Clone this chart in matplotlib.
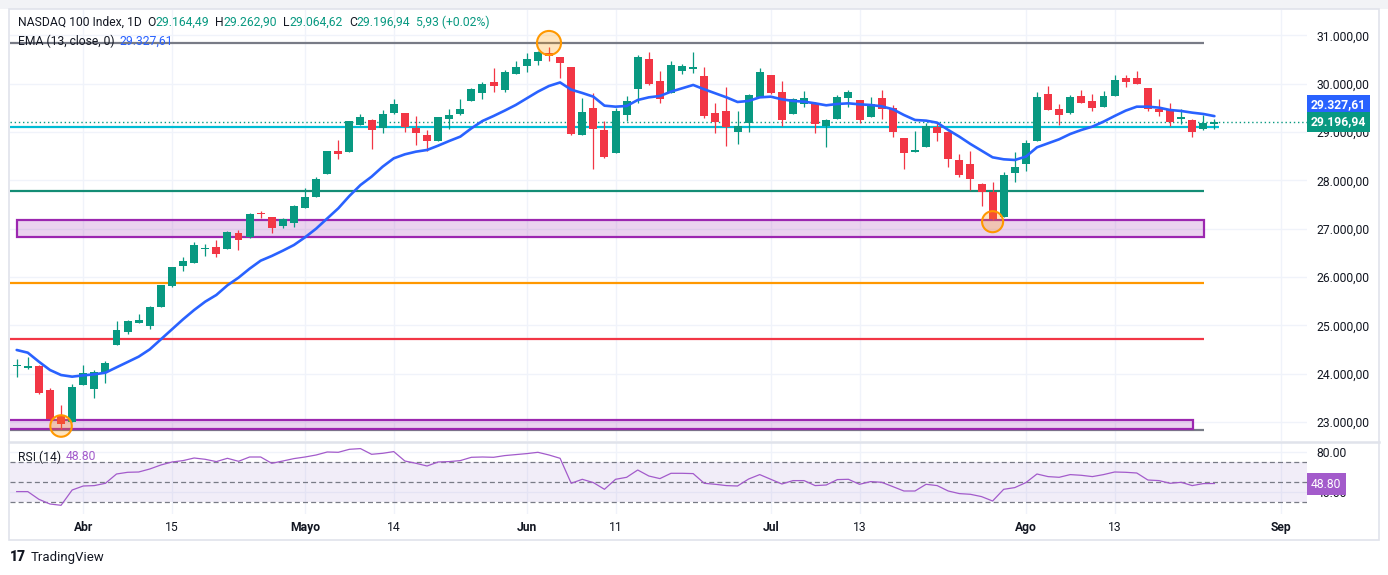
import matplotlib
matplotlib.use("Agg")
import matplotlib.pyplot as plt
from matplotlib.patches import Rectangle
from matplotlib.lines import Line2D
import numpy as np

W, H = 1388, 575

# ---- daily candles (NASDAQ 100, 1D) ----
opens = [24150, 24123, 24165, 23661, 23123, 23006, 23771, 23688, 24033, 24599,
         24868, 25054, 24992, 25385, 25820, 26233, 26296, 26585, 26620, 26585,
         26902, 26820, 27309, 27234, 27061, 27123, 27434, 27661, 28130, 28606,
         28592, 29151, 29247, 29089, 29399, 29392, 29089, 28937, 28820, 29268,
         29365, 29647, 29813, 30027, 29868, 30206, 30372, 30475, 30627, 30544,
         30337, 28944, 29489, 29041, 28572, 29358, 29896, 30510, 30054, 29813,
         30268, 30310, 30158, 29399, 29434, 29006, 29179, 29730, 30178, 29827,
         29372, 29579, 29606, 29130, 29275, 29710, 29661, 29316, 29703, 29489,
         28875, 28595, 28696, 29110, 29006, 28427, 28337, 27923, 27758, 27247,
         28158, 28337, 28820, 29785, 29475, 29385, 29744, 29641, 29523, 29751,
         30110, 30117, 29903, 29468, 29454, 29275, 29248, 29054, 29164.49]
highs = [24295, 24351, 24170, 23695, 23350, 23785, 24178, 24075, 24254, 25089,
         25109, 25233, 25399, 25840, 26205, 26413, 26716, 26682, 26765, 26951,
         26971, 27323, 27371, 27240, 27227, 27480, 27834, 28075, 28610, 28834,
         29235, 29372, 29260, 29454, 29682, 29400, 29330, 29040, 29310, 29475,
         29682, 29900, 30040, 30316, 30275, 30468, 30627, 30682, 30751, 30550,
         30345, 29696, 29813, 29227, 29489, 29744, 30592, 30648, 30261, 30468,
         30399, 30648, 30337, 29592, 29930, 29434, 29775, 30323, 30185, 30054,
         29696, 29848, 29610, 29268, 29765, 29868, 29665, 29723, 29868, 29558,
         28880, 29020, 29179, 29179, 29010, 28537, 28606, 27951, 27958, 28165,
         28579, 28834, 29820, 29951, 29579, 29765, 29868, 29785, 29854, 30179,
         30179, 30261, 29908, 29675, 29592, 29468, 29268, 29351, 29262.90]
lows = [23937, 24102, 23585, 23050, 22847, 23000, 23760, 23502, 23799, 24590,
        24820, 25040, 24930, 25378, 25785, 26130, 26290, 26440, 26420, 26580,
        26558, 26815, 27213, 26903, 27020, 27040, 27430, 27655, 28125, 28447,
        28585, 29145, 28654, 28985, 29365, 29006, 28730, 28599, 28815, 29068,
        29360, 29640, 29689, 29834, 29820, 30200, 30248, 30392, 30475, 30123,
        28937, 28940, 28227, 28468, 28565, 29234, 29592, 29980, 29606, 29808,
        30192, 30213, 29296, 28985, 28710, 28744, 29006, 29725, 29785, 29123,
        29365, 29523, 28985, 28696, 29270, 29523, 29192, 29310, 29275, 28903,
        28241, 28590, 28690, 28820, 28282, 28075, 27799, 27475, 27185, 27240,
        27972, 28199, 28815, 29454, 29144, 29380, 29600, 29434, 29518, 29745,
        29937, 29995, 29441, 29330, 29130, 29158, 28903, 29050, 29064.62]
closes = [24165, 24158, 23606, 23054, 22950, 23723, 24013, 24033, 24220, 24902,
          25089, 25109, 25378, 25833, 26199, 26330, 26661, 26599, 26482, 26930,
          26765, 27303, 27296, 27020, 27192, 27468, 27647, 28027, 28606, 28551,
          29227, 29303, 29047, 29372, 29578, 29103, 28985, 28820, 29303, 29351,
          29475, 29882, 29992, 29958, 30241, 30344, 30510, 30655, 30572, 30420,
          28958, 29413, 29068, 28489, 29434, 29641, 30551, 29985, 29675, 30386,
          30365, 30337, 29337, 29213, 29110, 29123, 29765, 30241, 29813, 29247,
          29675, 29696, 29158, 29247, 29723, 29827, 29247, 29585, 29482, 29006,
          28572, 28610, 29123, 28985, 28434, 28110, 28020, 27765, 27192, 28110,
          28275, 28779, 29723, 29461, 29351, 29730, 29606, 29503, 29744, 30075,
          30041, 30000, 29475, 29420, 29213, 29303, 29006, 29190, 29196.94]

# EMA(13, close) as drawn
ema13 = [24489, 24433, 24247, 24075, 23971, 23937, 23964, 23985, 24019, 24130,
         24240, 24351, 24502, 24709, 24916, 25123, 25316, 25489, 25627, 25827,
         25985, 26171, 26337, 26434, 26544, 26661, 26820, 26999, 27210, 27420,
         27675, 27902, 28075, 28282, 28454, 28537, 28592, 28627, 28716, 28813,
         28903, 29075, 29227, 29330, 29441, 29558, 29696, 29834, 29951, 30024,
         29875, 29806, 29730, 29544, 29523, 29537, 29661, 29716, 29744, 29834,
         29903, 29972, 29882, 29799, 29716, 29620, 29641, 29716, 29730, 29675,
         29641, 29627, 29592, 29551, 29579, 29592, 29572, 29558, 29530, 29470,
         29351, 29248, 29234, 29192, 29041, 28903, 28751, 28613, 28475, 28434,
         28420, 28489, 28682, 28765, 28848, 28958, 29041, 29110, 29213, 29330,
         29441, 29523, 29523, 29503, 29454, 29434, 29399, 29372, 29327.61]

# RSI(14)
rsi14 = [40.7, 40.7, 33.0, 28.3, 27.0, 42.3, 46.3, 46.7, 49.0, 58.3,
         60.0, 60.3, 63.3, 67.3, 70.3, 71.7, 74.3, 73.0, 70.7, 74.0,
         71.0, 75.3, 75.3, 69.0, 71.3, 73.7, 75.3, 77.3, 80.3, 80.0,
         83.0, 83.7, 78.0, 79.0, 80.7, 71.3, 69.0, 66.3, 70.3, 70.7,
         71.7, 75.0, 75.3, 75.0, 76.7, 77.7, 78.7, 80.0, 77.3, 74.0,
         49.0, 53.0, 49.7, 43.0, 53.0, 55.0, 62.3, 56.3, 53.7, 59.0,
         59.0, 58.7, 49.0, 48.0, 46.7, 46.3, 53.3, 57.7, 53.0, 48.3,
         51.7, 51.7, 46.7, 47.3, 52.7, 53.0, 48.0, 50.7, 50.0, 45.7,
         41.3, 41.3, 48.0, 46.7, 41.3, 38.7, 38.0, 35.7, 31.3, 43.0,
         44.7, 49.7, 58.3, 55.7, 55.0, 57.7, 57.0, 55.7, 57.7, 60.3,
         60.0, 59.3, 52.3, 51.7, 49.0, 50.0, 46.7, 48.7, 48.8]

# time axis (bar index of each label)
tick_pos = [6, 14, 26, 34, 46, 54, 68, 76, 91, 99, 114]
tick_labels = ["Abr", "15", "Mayo", "14", "Jun", "11", "Jul", "13", "Ago", "13", "Sep"]
month_labels = {"Abr", "Mayo", "Jun", "Jul", "Ago", "Sep"}
price_ticks = [23000, 24000, 25000, 26000, 27000, 28000, 29000, 30000, 31000]

# drawn levels / zones
level_gray = 30830
level_cyan = 29110
level_teal = 27785
zone_upper = (26833, 27178)
level_orange = 25881
level_red = 24716
zone_lower = (22850, 23047)
level_gray_low = 22840

# highlight circles
circle_idx = [48, 88, 4]
circle_price = [30841, 27143, 22916]

UP = "#089981"
DOWN = "#F23645"
EMA_C = "#2962FF"
RSI_C = "#A35BCB"
GRID = "#F0F3FA"
TXT = "#131722"
PURPLE = "#9C27B0"

plt.rcParams["font.family"] = ["Roboto", "DejaVu Sans"]


def fmt_price(v):
    return f"{v:,.2f}".replace(",", "X").replace(".", ",").replace("X", ".")


def box(l, t, r, b):
    return [l / W, 1 - b / H, (r - l) / W, (b - t) / H]


fig = plt.figure(figsize=(W / 100, H / 100), dpi=100)
fig.patch.set_facecolor("white")

ax = fig.add_axes(box(10, 10, 1307, 441))
ax_rsi = fig.add_axes(box(10, 443, 1307, 514), sharex=ax)

x = np.arange(len(closes))
o = np.array(opens)
c = np.array(closes)
up = c >= o
colors = np.where(up, UP, DOWN)

# grid
for a in (ax, ax_rsi):
    for tp in tick_pos:
        a.axvline(tp, color=GRID, lw=1, zorder=0)
for p in price_ticks:
    ax.axhline(p, color=GRID, lw=1, zorder=0)
for p in (40, 80):
    ax_rsi.axhline(p, color=GRID, lw=1, zorder=0)

# levels and zones
x_end = 107.1
ax.hlines(level_gray, -1, x_end, color="#787B86", lw=1.6, zorder=1)
ax.hlines(level_cyan, -1, 108.4, color="#00BCD4", lw=1.6, zorder=1)
ax.hlines(level_teal, -1, x_end, color="#138D75", lw=1.6, zorder=1)
ax.hlines(level_orange, -1, x_end, color="#FF9800", lw=1.6, zorder=1)
ax.hlines(level_red, -1, x_end, color="#F23645", lw=1.6, zorder=1)
ax.hlines(level_gray_low, -1, x_end, color="#787B86", lw=1.6, zorder=1)
ax.add_patch(Rectangle((0, zone_upper[0]), x_end, zone_upper[1] - zone_upper[0],
                       facecolor=(0.61, 0.15, 0.69, 0.2), edgecolor=PURPLE, lw=1.6, zorder=1))
ax.add_patch(Rectangle((-1, zone_lower[0]), 106.1 + 1, zone_lower[1] - zone_lower[0],
                       facecolor=(0.61, 0.15, 0.69, 0.2), edgecolor=PURPLE, lw=1.6, zorder=1))

# last price dotted line
ax.axhline(closes[-1], color=UP, lw=1, linestyle=(0, (1, 2)), zorder=1)

# candles
ax.vlines(x, lows, highs, colors=colors, lw=0.9, zorder=3)
body_low = np.minimum(o, c)
body_h = np.maximum(np.abs(c - o), 22)
ax.bar(x, body_h, bottom=body_low, width=0.72, color=colors, linewidth=0, zorder=3)

# EMA
ax.plot(x, ema13, color=EMA_C, lw=1.9, zorder=4, solid_capstyle="round")

# circles
ax.scatter(circle_idx, circle_price, s=[300, 230, 240], facecolor=(1.0, 0.6, 0.0, 0.25),
           edgecolor="#FF9800", linewidths=1.5, zorder=5)

ax.set_xlim(-0.604, 116.35)
ax.set_ylim(22606, 31523)
ax.yaxis.tick_right()
ax.set_yticks(price_ticks)
ax.set_yticklabels([fmt_price(p) for p in price_ticks])
ax.tick_params(axis="y", length=0, pad=7, labelsize=8.7, labelcolor=TXT)
ax.tick_params(axis="x", length=0, labelbottom=False)
for s in ax.spines.values():
    s.set_visible(False)

# RSI pane
ax_rsi.axhspan(30, 70, color="#7E57C2", alpha=0.1, lw=0, zorder=0)
for lv in (70, 50, 30):
    ax_rsi.axhline(lv, color="#787B86", lw=0.9, dashes=(4, 2.5), zorder=1)
ax_rsi.plot(x, rsi14, color=RSI_C, lw=0.9, zorder=3)
ax_rsi.set_ylim(18.3, 89.3)
ax_rsi.yaxis.tick_right()
ax_rsi.set_yticks([40, 80])
ax_rsi.set_yticklabels(["40.00", "80.00"])
ax_rsi.tick_params(axis="y", length=0, pad=7, labelsize=8.7, labelcolor=TXT)
ax_rsi.set_xticks(tick_pos)
ax_rsi.set_xticklabels(tick_labels)
ax_rsi.tick_params(axis="x", length=0, pad=5, labelsize=8.7, labelcolor=TXT)
for lab in ax_rsi.get_xticklabels():
    if lab.get_text() in month_labels:
        lab.set_fontweight("bold")
for s in ax_rsi.spines.values():
    s.set_visible(False)

# frame and separators
fig.add_artist(Rectangle((0, 1 - 9 / H), 1, 9 / H, transform=fig.transFigure,
                         facecolor="#F2F3F6", edgecolor="none", zorder=-1))
fig.add_artist(Rectangle((9 / W, 1 - 540 / H), 1370 / W, 531 / H, transform=fig.transFigure,
                         facecolor="none", edgecolor="#E0E3EB", lw=1.2))
fig.add_artist(Line2D([9 / W, 1379 / W], [1 - 442 / H, 1 - 442 / H], transform=fig.transFigure,
                      color="#E0E3EB", lw=1.8))

# header legends
renderer = fig.canvas.get_renderer()


def seq_text(x0, y0, parts, size=8.7):
    xx = x0
    for txt, col, gap in parts:
        t = fig.text(xx / W, 1 - y0 / H, txt, color=col, fontsize=size, va="center", ha="left")
        bb = t.get_window_extent(renderer)
        xx = bb.x1 + gap


seq_text(18, 22, [("NASDAQ 100 Index, 1D", TXT, 5),
                  ("O", TXT, 0), ("29.164,49", UP, 6),
                  ("H", TXT, 0), ("29.262,90", UP, 6),
                  ("L", TXT, 0), ("29.064,62", UP, 6),
                  ("C", TXT, 0), ("29.196,94", UP, 6),
                  ("5,93 (+0.02%)", UP, 0)])
seq_text(18, 41, [("EMA (13, close, 0)", TXT, 5), (fmt_price(ema13[-1]), EMA_C, 0)])
seq_text(18, 457, [("RSI (14)", TXT, 5), (f"{rsi14[-1]:.2f}", RSI_C, 0)])

# price scale labels
fig.text(1311 / W, 1 - 105 / H, fmt_price(ema13[-1]), color="white", fontsize=8.7,
         fontweight="bold", va="center", ha="left",
         bbox=dict(boxstyle="square,pad=0.3", facecolor=EMA_C, edgecolor="none"))
fig.text(1311 / W, 1 - 122 / H, fmt_price(closes[-1]), color="white", fontsize=8.7,
         fontweight="bold", va="center", ha="left",
         bbox=dict(boxstyle="square,pad=0.3", facecolor=UP, edgecolor="none"))
fig.text(1311 / W, 1 - 484 / H, f"{rsi14[-1]:.2f}", color="white", fontsize=8.7,
         va="center", ha="left",
         bbox=dict(boxstyle="square,pad=0.35", facecolor=RSI_C, edgecolor="none"))

# footer logo
fig.text(10 / W, 1 - 557 / H, "17", color=TXT, fontsize=10, fontweight="heavy",
         va="center", ha="left")
fig.text(31 / W, 1 - 557 / H, "TradingView", color=TXT, fontsize=9.5, va="center", ha="left")

fig.savefig("out.png", dpi=100)
